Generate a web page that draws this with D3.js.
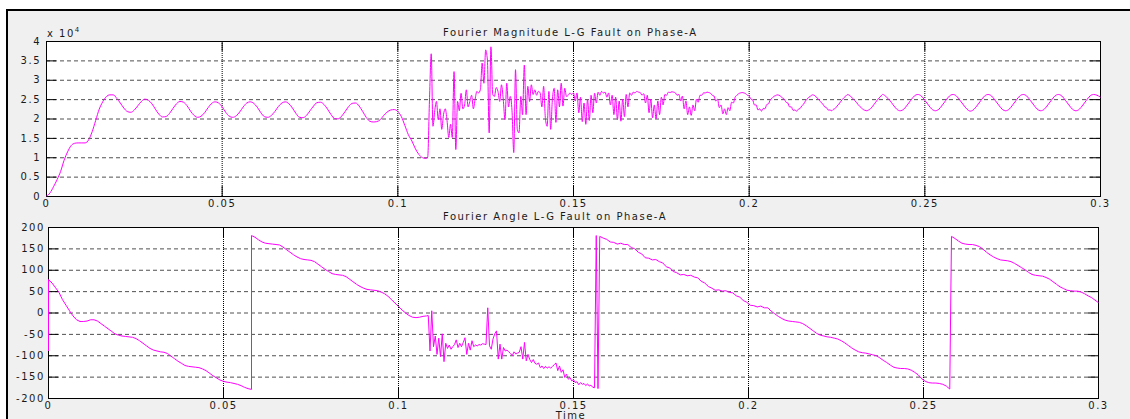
<!DOCTYPE html>
<html>
<head>
<meta charset="utf-8">
<script src="https://cdn.jsdelivr.net/npm/d3@7"></script>
<style>
  html, body { margin: 0; padding: 0; background: #fff; }
  svg { display: block; }
</style>
</head>
<body>
<svg id="fig" width="1130" height="419"></svg>
<script>
// ---------- axis definitions ----------
const timeDomain = [0, 0.3];
const timeTicks = [0, 0.05, 0.1, 0.15, 0.2, 0.25, 0.3];
const magnitudeTicks = [0, 0.5, 1, 1.5, 2, 2.5, 3, 3.5, 4];          // x 10^4
const angleTicks = [-200, -150, -100, -50, 0, 50, 100, 150, 200];   // degrees

// ---------- Fourier magnitude, phase A (units of 10^4) ----------
// 0 .. 0.108 s, 1 ms samples
const magPreFault = [
  0, 0.08, 0.24, 0.42, 0.63, 0.92, 1.14, 1.3, 1.36, 1.37,
  1.37, 1.37, 1.45, 1.66, 1.95, 2.24, 2.43, 2.56, 2.61, 2.61,
  2.52, 2.4, 2.27, 2.18, 2.16, 2.22, 2.33, 2.44, 2.5, 2.47,
  2.38, 2.24, 2.11, 2.04, 2.05, 2.13, 2.26, 2.38, 2.44, 2.42,
  2.33, 2.19, 2.08, 2.03, 2.06, 2.15, 2.28, 2.39, 2.43, 2.4,
  2.3, 2.16, 2.06, 2.03, 2.07, 2.17, 2.3, 2.4, 2.43, 2.39,
  2.29, 2.15, 2.05, 2.03, 2.08, 2.18, 2.31, 2.4, 2.43, 2.38,
  2.27, 2.13, 2.03, 2.02, 2.08, 2.2, 2.32, 2.41, 2.42, 2.36,
  2.24, 2.1, 2.0, 1.99, 2.06, 2.18, 2.31, 2.39, 2.4, 2.32,
  2.18, 2.03, 1.93, 1.91, 1.92, 1.97, 2.08, 2.17, 2.22, 2.23,
  2.18, 2.05, 1.82, 1.58, 1.42, 1.22, 1.07, 0.99, 0.97
];
// 0.1085 .. 0.24 s, 0.5 ms samples (fault inception and decay)
const magFault = [
  1.0,
  2.45, 3.67, 1.8, 2.2, 2.44, 1.97, 2.25, 1.72, 2.1, 2.25,
  1.95, 1.51, 1.85, 1.51, 3.21, 1.2, 2.44, 2.2, 2.65, 2.25,
  2.35, 2.74, 2.3, 2.44, 2.6, 2.25, 2.5, 2.7, 2.66, 2.75,
  3.43, 2.91, 3.77, 3.5, 1.63, 3.85, 2.62, 2.57, 2.8, 2.7,
  2.44, 2.87, 2.5, 1.97, 2.91, 2.3, 2.57, 2.2, 1.12, 3.26,
  1.72, 1.63, 2.57, 2.1, 3.38, 2.1, 2.83, 2.44, 2.87, 2.62,
  2.74, 2.6, 2.7, 2.66, 2.3, 2.83, 2.0, 1.8, 2.7, 1.72,
  2.5, 2.78, 1.9, 2.74, 2.3, 2.91, 2.32, 2.78, 2.57, 2.6,
  2.66, 2.62, 2.66,
  2.45, 2.66, 2.15, 2.55, 1.92, 2.4, 1.85, 2.5, 1.95, 2.6, 2.15, 2.65, 2.4, 2.68, 2.6, 2.7, 2.66, 2.68, 2.55,
  2.66, 2.35, 2.6, 2.1, 2.55, 1.97, 2.45, 1.93, 2.5, 2.05, 2.62, 2.3, 2.66, 2.6, 2.68, 2.66, 2.7, 2.68, 2.67, 2.6,
  2.64, 2.4, 2.6, 2.15, 2.5, 2.02, 2.35, 1.99, 2.45, 2.1, 2.55, 2.35, 2.62, 2.6, 2.68, 2.67, 2.69, 2.68, 2.66, 2.6,
  2.62, 2.45, 2.58, 2.25, 2.45, 2.1, 2.3, 2.08, 2.35, 2.2, 2.5, 2.42, 2.6, 2.6, 2.66, 2.66, 2.68, 2.67, 2.65, 2.6,
  2.58, 2.45, 2.5, 2.28, 2.35, 2.12, 2.25, 2.1, 2.28, 2.2, 2.42, 2.4, 2.55, 2.6, 2.64, 2.66, 2.67, 2.66, 2.64, 2.6,
  2.58, 2.5, 2.48, 2.35, 2.35, 2.22, 2.25, 2.19, 2.26, 2.25, 2.36, 2.38, 2.48, 2.52, 2.57, 2.59, 2.61, 2.6, 2.57, 2.53,
  2.5, 2.42, 2.4, 2.3, 2.3, 2.21, 2.22, 2.19, 2.24, 2.26, 2.33, 2.37, 2.45, 2.5, 2.55, 2.58, 2.61, 2.6, 2.56, 2.52,
  2.47, 2.41, 2.37, 2.3, 2.28, 2.22, 2.22, 2.2, 2.24, 2.26, 2.32, 2.37, 2.43, 2.49, 2.54, 2.58, 2.62, 2.6, 2.56, 2.52,
  2.47, 2.42, 2.36, 2.31, 2.27, 2.23, 2.21, 2.2, 2.22, 2.25, 2.3, 2.36, 2.42, 2.48, 2.53, 2.58, 2.62, 2.6, 2.56, 2.52, 2.47
];
// 0.241 .. 0.3 s, 1 ms samples (post-fault steady state)
const magSteady = [
  2.35, 2.24, 2.2, 2.24, 2.35, 2.47, 2.58, 2.62, 2.58, 2.47,
  2.35, 2.24, 2.2, 2.24, 2.35, 2.47, 2.58, 2.62, 2.58, 2.47,
  2.35, 2.24, 2.19, 2.24, 2.35, 2.47, 2.58, 2.62, 2.58, 2.47,
  2.35, 2.24, 2.2, 2.24, 2.35, 2.47, 2.58, 2.62, 2.58, 2.47,
  2.35, 2.24, 2.2, 2.24, 2.35, 2.47, 2.58, 2.62, 2.58, 2.47,
  2.35, 2.24, 2.2, 2.24, 2.35, 2.47, 2.58, 2.62, 2.6, 2.55
];

// ---------- Fourier angle, phase A (degrees) ----------
const angleStartTransient = [0, -90];          // at t = 0
// 0 .. 0.058 s, 1 ms samples
const angleCycle1 = [
  77, 69, 58, 47, 30, 17, 4, -8, -17, -21,
  -21, -20, -17, -17, -20, -26, -32, -38, -44, -50,
  -53, -55, -56, -57, -58, -61, -66, -72, -78, -84,
  -88, -90, -92, -93, -96, -102, -108, -114, -119, -124,
  -126, -127, -128, -129, -132, -136, -142, -148, -153, -158,
  -161, -163, -164, -166, -168, -171, -175, -178, -180
];
// 0.058 .. 0.108 s, 1 ms samples
const angleCycle2 = [
  180, 176, 170, 165, 162, 161, 160, 159, 158, 153,
  147, 141, 135, 130, 126, 124, 123, 122, 119, 113,
  107, 101, 96, 91, 89, 88, 87, 84, 78, 72,
  66, 61, 57, 54, 53, 52, 51, 48, 44, 38,
  30, 22, 14, 6, -1, -7, -11, -12, -11, -9,
  -8
];
// 0.1085 .. 0.157 s, 0.5 ms samples
const angleFault = [
  -7, -90, 4, -80, -55, -98, -60, -103, -50, -115,
  -72, -84, -76, -86, -80, -75, -64, -82, -72, -80,
  -70, -59, -98, -72, -88, -66, -80, -76, -78, -75,
  -76, -73, -74, -75, 11, -78, -86, -62, -50, -43,
  -109, -74, -109, -82, -90, -88, -92, -96, -101, -92,
  -97, -95, -93, -80, -109, -70, -113, -98, -110, -117,
  -110, -119, -121, -118, -129, -125, -131, -126, -130, -127,
  -130, -126, -122, -118, -136, -125, -140, -134, -152, -144,
  -156, -152, -160, -157, -164, -162, -169, -164, -168, -166,
  -171, -167, -172, -170, -175, -176, 180, -178
];
// 0.1575 .. 0.2575 s, 1 ms samples
const angleCycle3 = [
  178, 174, 171, 165, 164, 160, 162, 159, 159, 152,
  149, 141, 137, 128, 127, 123, 124, 119, 116, 107,
  104, 96, 93, 88, 89, 86, 87, 83, 81, 73,
  69, 61, 57, 52, 53, 50, 51, 47, 46, 39,
  36, 28, 24, 17, 16, 13, 15, 11, 11, 3,
  -3, -9, -14, -18, -20, -21, -22, -23, -26, -31,
  -37, -43, -49, -53, -55, -57, -58, -60, -62, -66,
  -71, -77, -83, -88, -92, -94, -95, -97, -99, -101,
  -106, -112, -117, -123, -128, -130, -131, -131, -132, -135,
  -140, -146, -155, -161, -164, -165, -165, -166, -168, -172,
  -179
];
// 0.258 .. 0.3 s, 1 ms samples
const angleCycle4 = [
  178, 173, 167, 162, 160, 159, 159, 157, 154, 148,
  141, 135, 130, 126, 123, 122, 121, 119, 115, 110,
  105, 100, 94, 89, 87, 86, 85, 82, 78, 72,
  66, 60, 56, 52, 51, 50, 50, 48, 44, 39,
  35, 29, 23
];

// ---------- build the time series ----------
function sampled(t0, dt, values) {
  return values.map((v, i) => ({ t: t0 + i * dt, v }));
}

const magnitudeSeries = [].concat(
  sampled(0, 0.001, magPreFault),
  sampled(0.1085, 0.0005, magFault),
  sampled(0.241, 0.001, magSteady)
);

const angleSeries = [].concat(
  angleStartTransient.map(v => ({ t: 0, v })),
  sampled(0, 0.001, angleCycle1),
  sampled(0.058, 0.001, angleCycle2),
  sampled(0.1085, 0.0005, angleFault),
  sampled(0.1575, 0.001, angleCycle3),
  sampled(0.258, 0.001, angleCycle4)
);

// ---------- figure ----------
const FONT = "'DejaVu Sans', Verdana, sans-serif";
const svg = d3.select("#fig");

// window frame and background
svg.append("rect").attr("x", 8).attr("y", 11).attr("width", 1122).attr("height", 408).attr("fill", "#f0f0f0");
svg.append("rect").attr("x", 6).attr("y", 9).attr("width", 1124).attr("height", 2).attr("fill", "#000");
svg.append("rect").attr("x", 6).attr("y", 9).attr("width", 2).attr("height", 410).attr("fill", "#000");

function styleText(sel) {
  sel.attr("font-family", FONT)
     .attr("font-size", 10)
     .attr("letter-spacing", 1.5)
     .attr("fill", "#1a1a1a");
}

function drawPanel(opts) {
  const { box, yDomain, yTicks, series, curve, yPad, xPad, id } = opts;
  const w = box.right - box.left, h = box.bottom - box.top;
  const x = d3.scaleLinear().domain(timeDomain).range([box.left, box.right]);
  const y = d3.scaleLinear().domain(yDomain).range([box.bottom, box.top]);
  const g = svg.append("g");

  g.append("rect")
    .attr("x", box.left + 0.5).attr("y", box.top + 0.5)
    .attr("width", w).attr("height", h)
    .attr("fill", "#fff");

  // horizontal grid (dashed)
  const hg = g.append("g")
    .attr("transform", `translate(${box.left},0)`)
    .call(d3.axisLeft(y).tickValues(yTicks.slice(1, -1)).tickSize(-w).tickFormat(""));
  hg.select(".domain").remove();
  hg.selectAll("line").attr("stroke", "#505050").attr("stroke-dasharray", "4,3");

  // vertical grid (dotted)
  const vg = g.append("g")
    .attr("transform", `translate(0,${box.bottom})`)
    .call(d3.axisBottom(x).tickValues(timeTicks.slice(1, -1)).tickSize(-h).tickFormat(""));
  vg.select(".domain").remove();
  vg.selectAll("line").attr("stroke", "#000").attr("stroke-dasharray", "1,1");

  // inward ticks on all four sides
  const left = g.append("g").attr("transform", `translate(${box.left},0)`)
    .call(d3.axisLeft(y).tickValues(yTicks).tickSize(-10).tickPadding(yPad).tickFormat(d => String(d)));
  const right = g.append("g").attr("transform", `translate(${box.right},0)`)
    .call(d3.axisRight(y).tickValues(yTicks).tickSize(-10).tickFormat(""));
  const top = g.append("g").attr("transform", `translate(0,${box.top})`)
    .call(d3.axisTop(x).tickValues(timeTicks).tickSize(-10).tickFormat(""));
  const bottom = g.append("g").attr("transform", `translate(0,${box.bottom})`)
    .call(d3.axisBottom(x).tickValues(timeTicks).tickSize(-10).tickPadding(xPad).tickFormat(d => String(d)));
  [left, right, top, bottom].forEach(a => {
    a.select(".domain").remove();
    a.selectAll("line").attr("stroke", "#000");
    styleText(a.selectAll("text"));
    a.attr("font-family", null).attr("font-size", null);
  });

  // axes box
  g.append("rect")
    .attr("x", box.left + 0.5).attr("y", box.top + 0.5)
    .attr("width", w).attr("height", h)
    .attr("fill", "none").attr("stroke", "#000").attr("stroke-width", 1);

  // signal, drawn above the axes box
  g.append("clipPath").attr("id", id)
    .append("rect").attr("x", box.left).attr("y", box.top).attr("width", w + 1.5).attr("height", h + 1.5);
  g.append("path")
    .datum(series)
    .attr("clip-path", `url(#${id})`)
    .attr("fill", "none")
    .attr("stroke", "#ff00ff")
    .attr("stroke-width", 1)
    .attr("stroke-linejoin", "round")
    .attr("d", d3.line().x(d => x(d.t) + 0.5).y(d => y(d.v)).curve(curve));

  return { x, y };
}

drawPanel({
  id: "clip-mag",
  box: { left: 46, right: 1100, top: 41, bottom: 196 },
  yDomain: [0, 4],
  yTicks: magnitudeTicks,
  series: magnitudeSeries,
  curve: d3.curveMonotoneX,
  yPad: 5,
  xPad: 4
});

drawPanel({
  id: "clip-ang",
  box: { left: 48, right: 1098, top: 227, bottom: 398 },
  yDomain: [-200, 200],
  yTicks: angleTicks,
  series: angleSeries,
  curve: d3.curveLinear,
  yPad: 3.2,
  xPad: 4
});

// exponent label of the magnitude axis
const expo = svg.append("text").attr("x", 47).attr("y", 36.5);
styleText(expo);
expo.append("tspan").text("x 10");
expo.append("tspan").attr("dy", -4.5).attr("font-size", 7).attr("letter-spacing", 0.5).text("4");

// titles
styleText(svg.append("text").attr("x", 443).attr("y", 36).text("Fourier Magnitude L-G Fault on Phase-A"));
styleText(svg.append("text").attr("x", 443).attr("y", 219.5).text("Fourier Angle L-G Fault on Phase-A"));
styleText(svg.append("text").attr("x", 571).attr("y", 418.5).attr("text-anchor", "middle").text("Time"));
</script>
</body>
</html>
